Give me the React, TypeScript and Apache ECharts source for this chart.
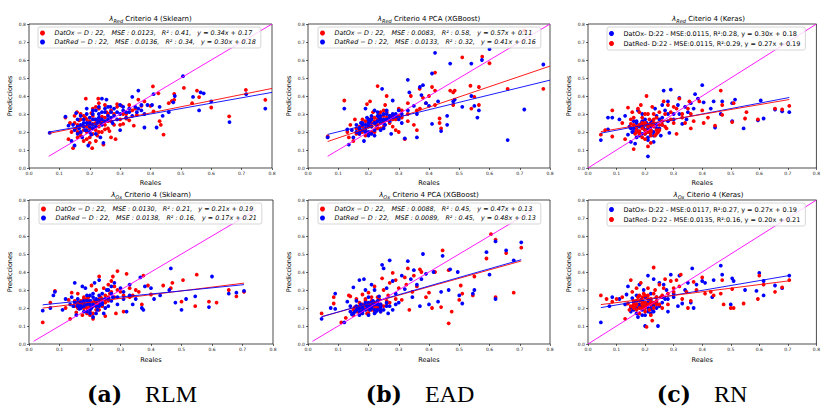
import React, { useEffect, useRef } from 'react';
import * as echarts from 'echarts';

const RED = '#ff0000';
const BLUE = '#0000ff';
const MAG = '#ff00ff';

// ---------- DATA ----------
// (a) RLM – λRed
const aTopOx: number[][] = [[0.778,0.379],[0.714,0.434],[0.659,0.287],[0.6,0.336],[0.56,0.394],[0.553,0.43],[0.537,0.36],[0.51,0.445],[0.478,0.412],[0.478,0.379],[0.47,0.372],[0.46,0.36],[0.443,0.185],[0.434,0.24],[0.426,0.415],[0.43,0.26],[0.408,0.453],[0.41,0.315],[0.4,0.345],[0.38,0.37],[0.37,0.345],[0.355,0.295],[0.36,0.38],[0.345,0.235],[0.33,0.265],[0.32,0.275],[0.31,0.245],[0.305,0.345],[0.3,0.24],[0.29,0.355],[0.285,0.16],[0.28,0.3],[0.27,0.17],[0.265,0.205],[0.26,0.26],[0.255,0.31],[0.25,0.215],[0.245,0.13],[0.24,0.285],[0.235,0.25],[0.23,0.33],[0.228,0.385],[0.225,0.18],[0.22,0.34],[0.215,0.27],[0.21,0.22],[0.208,0.11],[0.205,0.305],[0.2,0.17],[0.195,0.25],[0.19,0.2],[0.187,0.385],[0.185,0.28],[0.18,0.15],[0.175,0.235],[0.17,0.195],[0.165,0.265],[0.16,0.17],[0.158,0.31],[0.155,0.22],[0.15,0.29],[0.145,0.11],[0.14,0.2],[0.135,0.25],[0.13,0.16],[0.12,0.28],[0.19,0.23],[0.2,0.26],[0.21,0.245],[0.22,0.21],[0.23,0.23],[0.24,0.2],[0.25,0.28],[0.26,0.3],[0.27,0.32],[0.18,0.29],[0.17,0.27],[0.16,0.24],[0.21,0.29],[0.23,0.27],[0.2,0.14],[0.22,0.15],[0.29,0.34],[0.31,0.3],[0.33,0.35],[0.34,0.32],[0.16,0.2],[0.17,0.18],[0.18,0.21],[0.19,0.16],[0.2,0.22],[0.21,0.19],[0.22,0.25],[0.23,0.2],[0.24,0.26],[0.25,0.24],[0.26,0.22],[0.27,0.26],[0.28,0.24],[0.19,0.27],[0.21,0.33],[0.23,0.36],[0.25,0.35],[0.17,0.3],[0.15,0.25],[0.3,0.27],[0.32,0.3],[0.35,0.33]];
const aTopRed: number[][] = [[0.778,0.33],[0.715,0.41],[0.66,0.255],[0.6,0.37],[0.575,0.415],[0.56,0.32],[0.565,0.42],[0.54,0.395],[0.507,0.51],[0.48,0.4],[0.475,0.365],[0.46,0.31],[0.44,0.29],[0.43,0.34],[0.42,0.225],[0.405,0.35],[0.41,0.41],[0.38,0.225],[0.36,0.43],[0.37,0.35],[0.355,0.31],[0.34,0.395],[0.33,0.33],[0.32,0.28],[0.31,0.32],[0.3,0.21],[0.29,0.31],[0.275,0.25],[0.268,0.34],[0.255,0.38],[0.24,0.385],[0.245,0.14],[0.235,0.17],[0.23,0.3],[0.225,0.25],[0.22,0.32],[0.21,0.27],[0.205,0.185],[0.2,0.23],[0.195,0.125],[0.19,0.33],[0.185,0.21],[0.18,0.25],[0.175,0.17],[0.17,0.29],[0.165,0.22],[0.16,0.19],[0.155,0.305],[0.15,0.125],[0.145,0.24],[0.14,0.15],[0.13,0.235],[0.12,0.285],[0.068,0.195],[0.19,0.25],[0.2,0.28],[0.21,0.3],[0.22,0.27],[0.23,0.26],[0.24,0.31],[0.25,0.33],[0.26,0.29],[0.27,0.28],[0.18,0.23],[0.17,0.24],[0.16,0.27],[0.2,0.2],[0.21,0.24],[0.22,0.19],[0.24,0.24],[0.26,0.34],[0.28,0.33],[0.3,0.35],[0.32,0.31],[0.34,0.29],[0.36,0.33],[0.38,0.3],[0.39,0.35],[0.17,0.2],[0.18,0.27],[0.19,0.21],[0.2,0.25],[0.21,0.22],[0.22,0.23],[0.23,0.28],[0.24,0.27],[0.25,0.26],[0.26,0.27],[0.27,0.31],[0.28,0.29],[0.29,0.27],[0.3,0.3],[0.19,0.3],[0.21,0.32],[0.23,0.34],[0.25,0.31],[0.16,0.23],[0.15,0.21],[0.31,0.34],[0.33,0.31],[0.35,0.34],[0.37,0.32]];
// (b) EAD – λRed
const bTopOx: number[][] = [[0.778,0.44],[0.715,0.763],[0.66,0.44],[0.6,0.582],[0.576,0.619],[0.565,0.35],[0.565,0.45],[0.537,0.457],[0.54,0.33],[0.55,0.395],[0.51,0.615],[0.48,0.42],[0.485,0.43],[0.47,0.43],[0.48,0.35],[0.44,0.22],[0.435,0.25],[0.435,0.275],[0.42,0.53],[0.42,0.43],[0.42,0.35],[0.41,0.45],[0.4,0.4],[0.39,0.36],[0.38,0.39],[0.369,0.44],[0.37,0.33],[0.36,0.32],[0.36,0.21],[0.35,0.24],[0.34,0.4],[0.33,0.36],[0.33,0.26],[0.32,0.16],[0.3,0.33],[0.3,0.2],[0.29,0.21],[0.28,0.23],[0.27,0.29],[0.26,0.4],[0.255,0.35],[0.25,0.32],[0.24,0.27],[0.235,0.3],[0.23,0.455],[0.225,0.22],[0.22,0.25],[0.215,0.31],[0.21,0.2],[0.205,0.37],[0.2,0.23],[0.195,0.355],[0.19,0.18],[0.185,0.21],[0.18,0.27],[0.17,0.19],[0.16,0.22],[0.155,0.27],[0.15,0.15],[0.14,0.24],[0.135,0.17],[0.13,0.2],[0.12,0.375],[0.065,0.175],[0.19,0.24],[0.2,0.26],[0.21,0.28],[0.22,0.2],[0.23,0.24],[0.24,0.22],[0.25,0.26],[0.26,0.28],[0.27,0.25],[0.18,0.2],[0.17,0.23],[0.2,0.19],[0.22,0.28],[0.24,0.31],[0.28,0.27],[0.29,0.29],[0.31,0.28],[0.17,0.21],[0.18,0.23],[0.19,0.21],[0.2,0.24],[0.21,0.23],[0.22,0.26],[0.23,0.27],[0.24,0.28],[0.25,0.29],[0.26,0.31],[0.27,0.27],[0.28,0.29],[0.29,0.27],[0.3,0.29],[0.16,0.19],[0.19,0.26],[0.21,0.25],[0.23,0.22],[0.25,0.23],[0.31,0.32],[0.33,0.3]];
const bTopRed: number[][] = [[0.778,0.575],[0.715,0.325],[0.66,0.155],[0.6,0.66],[0.575,0.6],[0.565,0.32],[0.56,0.28],[0.55,0.345],[0.54,0.4],[0.54,0.58],[0.51,0.34],[0.48,0.37],[0.485,0.38],[0.47,0.58],[0.46,0.29],[0.46,0.24],[0.44,0.205],[0.43,0.37],[0.42,0.64],[0.41,0.525],[0.41,0.245],[0.4,0.345],[0.39,0.36],[0.38,0.46],[0.375,0.405],[0.37,0.45],[0.36,0.17],[0.36,0.3],[0.35,0.345],[0.335,0.42],[0.33,0.49],[0.32,0.165],[0.31,0.25],[0.3,0.32],[0.29,0.29],[0.28,0.375],[0.275,0.19],[0.27,0.26],[0.255,0.24],[0.25,0.3],[0.245,0.44],[0.24,0.21],[0.235,0.28],[0.225,0.24],[0.22,0.32],[0.21,0.19],[0.205,0.26],[0.2,0.23],[0.195,0.28],[0.19,0.33],[0.185,0.15],[0.18,0.21],[0.175,0.25],[0.17,0.2],[0.16,0.24],[0.15,0.17],[0.145,0.21],[0.135,0.13],[0.13,0.215],[0.12,0.33],[0.065,0.17],[0.19,0.22],[0.2,0.25],[0.21,0.27],[0.22,0.21],[0.23,0.26],[0.24,0.29],[0.25,0.27],[0.26,0.3],[0.27,0.28],[0.18,0.24],[0.17,0.22],[0.2,0.2],[0.22,0.18],[0.24,0.25],[0.26,0.32],[0.28,0.3],[0.3,0.28],[0.17,0.19],[0.18,0.25],[0.19,0.24],[0.2,0.27],[0.21,0.23],[0.22,0.25],[0.23,0.29],[0.24,0.27],[0.25,0.25],[0.26,0.27],[0.27,0.29],[0.28,0.28],[0.29,0.3],[0.3,0.27],[0.19,0.2],[0.21,0.29],[0.23,0.31],[0.25,0.22],[0.16,0.2],[0.31,0.3],[0.33,0.32],[0.2,0.18]];
// (c) RN – λRed
const cTopOx: number[][] = [[0.705,0.31],[0.68,0.315],[0.655,0.325],[0.615,0.275],[0.605,0.375],[0.595,0.265],[0.545,0.22],[0.515,0.38],[0.505,0.26],[0.505,0.36],[0.47,0.37],[0.465,0.3],[0.445,0.225],[0.44,0.37],[0.43,0.33],[0.4,0.46],[0.405,0.365],[0.385,0.385],[0.375,0.41],[0.37,0.33],[0.36,0.36],[0.345,0.27],[0.34,0.34],[0.33,0.245],[0.32,0.39],[0.315,0.35],[0.29,0.435],[0.28,0.37],[0.285,0.195],[0.27,0.32],[0.265,0.43],[0.26,0.35],[0.255,0.18],[0.245,0.2],[0.24,0.29],[0.235,0.33],[0.23,0.145],[0.225,0.26],[0.22,0.21],[0.21,0.155],[0.21,0.065],[0.205,0.25],[0.2,0.19],[0.195,0.22],[0.19,0.3],[0.185,0.245],[0.18,0.18],[0.175,0.32],[0.17,0.215],[0.165,0.135],[0.16,0.26],[0.155,0.2],[0.15,0.145],[0.145,0.23],[0.14,0.185],[0.13,0.29],[0.11,0.27],[0.085,0.28],[0.07,0.28],[0.07,0.215],[0.045,0.155],[0.19,0.23],[0.2,0.21],[0.21,0.24],[0.22,0.23],[0.23,0.2],[0.24,0.22],[0.25,0.27],[0.18,0.2],[0.17,0.25],[0.16,0.22],[0.2,0.27],[0.22,0.25],[0.26,0.24],[0.28,0.26],[0.3,0.3],[0.17,0.17],[0.18,0.23],[0.19,0.19],[0.2,0.24],[0.21,0.22],[0.22,0.19],[0.23,0.24],[0.24,0.24],[0.25,0.22],[0.16,0.2],[0.15,0.22],[0.19,0.26],[0.21,0.17],[0.23,0.18],[0.26,0.28],[0.28,0.3],[0.3,0.27],[0.32,0.3],[0.35,0.31],[0.17,0.26]];
const cTopRed: number[][] = [[0.705,0.345],[0.68,0.325],[0.655,0.33],[0.595,0.27],[0.555,0.31],[0.55,0.275],[0.51,0.36],[0.505,0.255],[0.47,0.35],[0.465,0.43],[0.47,0.295],[0.445,0.235],[0.42,0.28],[0.405,0.25],[0.4,0.32],[0.39,0.37],[0.37,0.26],[0.36,0.22],[0.355,0.37],[0.35,0.33],[0.34,0.25],[0.33,0.3],[0.32,0.385],[0.31,0.19],[0.3,0.34],[0.29,0.27],[0.28,0.35],[0.275,0.22],[0.265,0.37],[0.26,0.24],[0.25,0.31],[0.245,0.2],[0.24,0.28],[0.235,0.18],[0.23,0.23],[0.225,0.34],[0.22,0.18],[0.215,0.27],[0.205,0.4],[0.21,0.12],[0.2,0.21],[0.195,0.24],[0.19,0.17],[0.185,0.35],[0.18,0.205],[0.175,0.33],[0.17,0.23],[0.165,0.19],[0.16,0.105],[0.155,0.31],[0.15,0.245],[0.14,0.335],[0.13,0.16],[0.12,0.25],[0.085,0.32],[0.085,0.175],[0.06,0.21],[0.045,0.185],[0.19,0.22],[0.2,0.25],[0.21,0.2],[0.22,0.24],[0.23,0.27],[0.24,0.21],[0.25,0.24],[0.18,0.24],[0.17,0.2],[0.16,0.28],[0.2,0.3],[0.22,0.2],[0.27,0.3],[0.29,0.31],[0.31,0.33],[0.17,0.21],[0.18,0.19],[0.19,0.25],[0.2,0.19],[0.21,0.23],[0.22,0.21],[0.23,0.25],[0.24,0.19],[0.25,0.21],[0.26,0.26],[0.16,0.24],[0.15,0.27],[0.19,0.28],[0.21,0.3],[0.23,0.3],[0.2,0.16],[0.22,0.14],[0.27,0.23],[0.3,0.25],[0.33,0.28],[0.36,0.3],[0.18,0.31]];
// (a) RLM – λOx
const aBotOx: number[][] = [[0.705,0.29],[0.68,0.265],[0.655,0.3],[0.615,0.23],[0.59,0.235],[0.55,0.385],[0.545,0.21],[0.505,0.355],[0.5,0.235],[0.47,0.34],[0.465,0.31],[0.44,0.325],[0.4,0.275],[0.39,0.325],[0.375,0.38],[0.37,0.22],[0.36,0.29],[0.35,0.3],[0.34,0.27],[0.33,0.26],[0.32,0.39],[0.31,0.18],[0.3,0.29],[0.29,0.405],[0.285,0.17],[0.28,0.32],[0.275,0.375],[0.27,0.35],[0.265,0.28],[0.26,0.24],[0.25,0.155],[0.245,0.31],[0.24,0.22],[0.235,0.26],[0.23,0.375],[0.225,0.2],[0.22,0.3],[0.215,0.24],[0.21,0.14],[0.205,0.325],[0.2,0.2],[0.195,0.26],[0.19,0.17],[0.185,0.215],[0.18,0.25],[0.175,0.16],[0.17,0.2],[0.165,0.23],[0.16,0.28],[0.155,0.175],[0.15,0.21],[0.14,0.285],[0.135,0.14],[0.13,0.245],[0.12,0.2],[0.085,0.295],[0.07,0.23],[0.045,0.12],[0.19,0.22],[0.2,0.24],[0.21,0.21],[0.22,0.23],[0.23,0.22],[0.24,0.25],[0.18,0.2],[0.17,0.22],[0.16,0.2],[0.2,0.18],[0.22,0.19],[0.25,0.27],[0.26,0.33],[0.28,0.26],[0.17,0.24],[0.18,0.22],[0.19,0.2],[0.2,0.21],[0.21,0.23],[0.22,0.22],[0.23,0.25],[0.24,0.21],[0.25,0.23],[0.16,0.23],[0.15,0.24],[0.19,0.25],[0.21,0.17],[0.23,0.19],[0.26,0.26],[0.27,0.29],[0.29,0.3],[0.31,0.27],[0.33,0.31],[0.18,0.26],[0.2,0.16]];
const aBotRed: number[][] = [[0.705,0.295],[0.68,0.285],[0.655,0.28],[0.6,0.375],[0.59,0.205],[0.545,0.265],[0.515,0.25],[0.5,0.19],[0.48,0.23],[0.465,0.42],[0.46,0.3],[0.43,0.27],[0.41,0.25],[0.4,0.31],[0.38,0.32],[0.375,0.19],[0.37,0.2],[0.365,0.37],[0.35,0.25],[0.34,0.22],[0.33,0.33],[0.32,0.18],[0.31,0.25],[0.3,0.31],[0.29,0.22],[0.28,0.34],[0.275,0.26],[0.27,0.32],[0.26,0.21],[0.255,0.3],[0.25,0.25],[0.245,0.17],[0.24,0.28],[0.235,0.22],[0.23,0.355],[0.225,0.19],[0.22,0.25],[0.215,0.34],[0.21,0.15],[0.205,0.2],[0.2,0.27],[0.195,0.23],[0.19,0.18],[0.185,0.31],[0.18,0.21],[0.175,0.32],[0.17,0.23],[0.165,0.195],[0.16,0.25],[0.155,0.16],[0.15,0.34],[0.145,0.21],[0.14,0.26],[0.135,0.22],[0.12,0.25],[0.11,0.19],[0.085,0.29],[0.08,0.27],[0.07,0.2],[0.045,0.185],[0.19,0.24],[0.2,0.22],[0.21,0.26],[0.22,0.21],[0.23,0.24],[0.18,0.23],[0.17,0.21],[0.16,0.22],[0.2,0.19],[0.24,0.23],[0.26,0.3],[0.27,0.24],[0.17,0.2],[0.18,0.24],[0.19,0.22],[0.2,0.24],[0.21,0.22],[0.22,0.24],[0.23,0.21],[0.24,0.22],[0.25,0.2],[0.16,0.21],[0.15,0.23],[0.19,0.27],[0.21,0.28],[0.23,0.27],[0.26,0.25],[0.27,0.28],[0.29,0.26],[0.31,0.29],[0.33,0.27],[0.18,0.18],[0.2,0.17],[0.22,0.17]];
// (b) EAD – λOx
const bBotOx: number[][] = [[0.705,0.535],[0.68,0.285],[0.655,0.505],[0.62,0.58],[0.62,0.26],[0.605,0.61],[0.59,0.475],[0.55,0.375],[0.545,0.27],[0.51,0.28],[0.505,0.325],[0.5,0.245],[0.475,0.18],[0.465,0.41],[0.445,0.52],[0.44,0.205],[0.465,0.115],[0.42,0.4],[0.41,0.2],[0.4,0.285],[0.39,0.26],[0.375,0.4],[0.37,0.415],[0.36,0.32],[0.35,0.38],[0.345,0.29],[0.335,0.19],[0.33,0.42],[0.325,0.33],[0.32,0.37],[0.31,0.245],[0.3,0.31],[0.29,0.355],[0.28,0.395],[0.27,0.34],[0.265,0.27],[0.26,0.225],[0.25,0.3],[0.245,0.365],[0.24,0.18],[0.235,0.25],[0.23,0.21],[0.22,0.32],[0.215,0.195],[0.21,0.26],[0.2,0.285],[0.195,0.17],[0.19,0.24],[0.185,0.21],[0.18,0.275],[0.175,0.19],[0.17,0.23],[0.16,0.25],[0.155,0.205],[0.15,0.16],[0.14,0.265],[0.135,0.27],[0.125,0.145],[0.11,0.12],[0.085,0.26],[0.085,0.225],[0.045,0.17],[0.19,0.2],[0.2,0.22],[0.21,0.19],[0.22,0.23],[0.23,0.2],[0.18,0.22],[0.17,0.2],[0.16,0.18],[0.2,0.19],[0.22,0.21],[0.24,0.22],[0.17,0.21],[0.18,0.19],[0.19,0.22],[0.2,0.2],[0.21,0.22],[0.22,0.2],[0.23,0.23],[0.24,0.19],[0.25,0.21],[0.16,0.2],[0.15,0.19],[0.19,0.25],[0.21,0.24],[0.23,0.26],[0.26,0.24],[0.27,0.23],[0.29,0.25],[0.17,0.17],[0.2,0.17],[0.22,0.18]];
const bBotRed: number[][] = [[0.705,0.565],[0.68,0.465],[0.655,0.52],[0.62,0.57],[0.62,0.25],[0.6,0.385],[0.59,0.51],[0.55,0.3],[0.545,0.28],[0.51,0.225],[0.5,0.27],[0.495,0.4],[0.47,0.415],[0.465,0.3],[0.445,0.49],[0.44,0.29],[0.43,0.235],[0.415,0.4],[0.4,0.22],[0.39,0.39],[0.38,0.5],[0.375,0.36],[0.37,0.21],[0.36,0.33],[0.35,0.41],[0.345,0.26],[0.34,0.36],[0.33,0.46],[0.32,0.305],[0.31,0.38],[0.3,0.23],[0.29,0.28],[0.28,0.35],[0.27,0.465],[0.265,0.17],[0.26,0.31],[0.25,0.42],[0.245,0.44],[0.24,0.22],[0.235,0.265],[0.225,0.18],[0.22,0.3],[0.215,0.24],[0.21,0.33],[0.205,0.19],[0.2,0.26],[0.195,0.21],[0.19,0.3],[0.185,0.36],[0.18,0.17],[0.175,0.22],[0.17,0.355],[0.165,0.2],[0.16,0.24],[0.155,0.18],[0.15,0.315],[0.145,0.165],[0.14,0.21],[0.13,0.235],[0.12,0.12],[0.09,0.28],[0.09,0.195],[0.075,0.2],[0.045,0.14],[0.19,0.22],[0.2,0.2],[0.21,0.21],[0.22,0.19],[0.23,0.22],[0.18,0.2],[0.17,0.18],[0.16,0.21],[0.24,0.2],[0.26,0.21],[0.28,0.19],[0.17,0.2],[0.18,0.21],[0.19,0.19],[0.2,0.21],[0.21,0.2],[0.22,0.22],[0.23,0.19],[0.24,0.21],[0.25,0.19],[0.16,0.19],[0.15,0.17],[0.19,0.23],[0.21,0.23],[0.23,0.24],[0.26,0.23],[0.27,0.21],[0.29,0.22],[0.17,0.16],[0.2,0.16],[0.22,0.17],[0.18,0.18],[0.2,0.23],[0.24,0.18],[0.14,0.18]];
// (c) RN – λOx
const cBotOx: number[][] = [[0.705,0.38],[0.68,0.31],[0.655,0.325],[0.615,0.35],[0.615,0.27],[0.6,0.395],[0.59,0.295],[0.55,0.3],[0.51,0.35],[0.505,0.365],[0.5,0.22],[0.47,0.385],[0.465,0.435],[0.44,0.355],[0.435,0.26],[0.41,0.34],[0.4,0.35],[0.38,0.33],[0.37,0.2],[0.365,0.42],[0.36,0.23],[0.35,0.34],[0.34,0.3],[0.33,0.225],[0.32,0.38],[0.315,0.21],[0.3,0.26],[0.29,0.385],[0.28,0.18],[0.275,0.3],[0.265,0.33],[0.26,0.23],[0.25,0.34],[0.245,0.1],[0.24,0.26],[0.23,0.36],[0.225,0.19],[0.22,0.28],[0.21,0.38],[0.205,0.215],[0.2,0.1],[0.195,0.3],[0.19,0.16],[0.185,0.245],[0.18,0.33],[0.175,0.15],[0.17,0.27],[0.165,0.2],[0.16,0.235],[0.155,0.255],[0.15,0.18],[0.14,0.32],[0.135,0.275],[0.13,0.22],[0.11,0.25],[0.085,0.26],[0.075,0.21],[0.045,0.12],[0.19,0.21],[0.2,0.23],[0.21,0.2],[0.22,0.24],[0.23,0.22],[0.18,0.22],[0.17,0.24],[0.16,0.19],[0.2,0.26],[0.24,0.2],[0.27,0.25],[0.17,0.2],[0.18,0.21],[0.19,0.19],[0.2,0.21],[0.21,0.23],[0.22,0.2],[0.23,0.21],[0.24,0.23],[0.25,0.21],[0.16,0.21],[0.15,0.2],[0.19,0.24],[0.21,0.18],[0.23,0.18],[0.26,0.26],[0.28,0.25],[0.3,0.28],[0.17,0.17],[0.2,0.16],[0.22,0.17]];
const cBotRed: number[][] = [[0.705,0.355],[0.68,0.315],[0.655,0.29],[0.615,0.33],[0.6,0.38],[0.595,0.25],[0.545,0.225],[0.51,0.2],[0.505,0.305],[0.5,0.2],[0.475,0.22],[0.47,0.355],[0.465,0.28],[0.44,0.27],[0.43,0.29],[0.41,0.28],[0.4,0.37],[0.38,0.3],[0.37,0.345],[0.36,0.24],[0.35,0.2],[0.345,0.29],[0.33,0.25],[0.325,0.385],[0.32,0.32],[0.31,0.355],[0.3,0.29],[0.29,0.35],[0.28,0.22],[0.27,0.36],[0.265,0.31],[0.255,0.26],[0.25,0.33],[0.24,0.22],[0.235,0.3],[0.23,0.425],[0.225,0.13],[0.22,0.25],[0.215,0.19],[0.21,0.31],[0.205,0.095],[0.2,0.23],[0.195,0.28],[0.19,0.2],[0.185,0.34],[0.18,0.17],[0.175,0.26],[0.17,0.31],[0.165,0.21],[0.16,0.24],[0.155,0.29],[0.15,0.355],[0.145,0.19],[0.14,0.225],[0.13,0.14],[0.12,0.26],[0.1,0.25],[0.085,0.235],[0.065,0.25],[0.045,0.27],[0.19,0.23],[0.2,0.21],[0.21,0.25],[0.22,0.22],[0.23,0.2],[0.18,0.24],[0.17,0.22],[0.16,0.2],[0.2,0.27],[0.24,0.26],[0.26,0.2],[0.17,0.19],[0.18,0.2],[0.19,0.22],[0.2,0.2],[0.21,0.22],[0.22,0.23],[0.23,0.23],[0.24,0.24],[0.25,0.22],[0.16,0.22],[0.15,0.21],[0.19,0.26],[0.21,0.27],[0.23,0.28],[0.26,0.27],[0.28,0.28],[0.3,0.31],[0.17,0.24],[0.2,0.18],[0.22,0.16],[0.18,0.27]];

// regression coefficients [slope, intercept] read from the legends
const fitOx = [[0.34, 0.17], [0.57, 0.11], [0.30, 0.18], [0.21, 0.19], [0.47, 0.13], [0.27, 0.19]];
const fitRed = [[0.30, 0.18], [0.41, 0.16], [0.27, 0.19], [0.17, 0.21], [0.48, 0.13], [0.20, 0.21]];
const fitRange = [[0.065, 0.8], [0.065, 0.8], [0.045, 0.705], [0.045, 0.705], [0.045, 0.705], [0.045, 0.705]];
const identityRange = [[0.065, 0.8], [0.065, 0.8], [0.0, 0.8], [0.015, 0.745], [0.015, 0.745], [0.0, 0.8]];

const legendOx = [
  'DatOx − D : 22,   MSE : 0.0123,   R² : 0.41,   y = 0.34x + 0.17',
  'DatOx − D : 22,   MSE : 0.0083,   R² : 0.58,   y = 0.57x + 0.11',
  'DatOx- D:22 - MSE:0.0115, R²:0.28, y = 0.30x + 0.18',
  'DatOx − D : 22,   MSE : 0.0130,   R² : 0.21,   y = 0.21x + 0.19',
  'DatOx − D : 22,   MSE : 0.0088,   R² : 0.45,   y = 0.47x + 0.13',
  'DatOx- D:22 - MSE:0.0117, R²:0.27, y = 0.27x + 0.19',
];
const legendRed = [
  'DatRed − D : 22,   MSE : 0.0136,   R² : 0.34,   y = 0.30x + 0.18',
  'DatRed − D : 22,   MSE : 0.0133,   R² : 0.32,   y = 0.41x + 0.16',
  'DatRed- D:22 - MSE:0.0115, R²:0.29, y = 0.27x + 0.19',
  'DatRed − D : 22,   MSE : 0.0138,   R² : 0.16,   y = 0.17x + 0.21',
  'DatRed − D : 22,   MSE : 0.0089,   R² : 0.45,   y = 0.48x + 0.13',
  'DatRed- D:22 - MSE:0.0135, R²:0.16, y = 0.20x + 0.21',
];
const titleSub = ['Red', 'Red', 'Red', 'Ox', 'Ox', 'Ox'];
const titleRest = [' Criterio 4 (Sklearn)', ' Criterio 4 PCA (XGBoost)', ' Citerio 4 (Keras)', ' Criterio 4 (Sklearn)', ' Criterio 4 PCA (XGBoost)', ' Citerio 4 (Keras)'];
const captions = [['(a)', 'RLM'], ['(b)', 'EAD'], ['(c)', 'RN']];
const xTicks = [0, 0.8, 0.1];

const oxData = [aTopOx, bTopOx, cTopOx, aBotOx, bBotOx, cBotOx];
const redData = [aTopRed, bTopRed, cTopRed, aBotRed, bBotRed, cBotRed];

// ---------- LAYOUT ----------
const grids = [
  { left: 29, top: 24, width: 243, height: 144 },
  { left: 308, top: 24, width: 242, height: 144 },
  { left: 588, top: 24, width: 241, height: 144 },
  { left: 29, top: 200, width: 244, height: 144 },
  { left: 308, top: 200, width: 242, height: 144 },
  { left: 588, top: 200, width: 241, height: 144 },
];
const legendPos = [
  { left: 38, top: 27 }, { left: 318, top: 27 }, { left: 607, top: 27 },
  { left: 39, top: 203 }, { left: 318, top: 203 }, { left: 607, top: 203 },
];
const isKeras = [false, false, true, false, false, true];

export default function App() {
  const ref = useRef<HTMLDivElement>(null);
  useEffect(() => {
    if (!ref.current) return;
    const chart = echarts.init(ref.current, undefined, { renderer: 'svg' });
    const xAxis: any[] = [];
    const yAxis: any[] = [];
    const series: any[] = [];
    const legend: any[] = [];
    const graphic: any[] = [];
    const axisLabel = { fontSize: 4.5, color: '#222', margin: 3, fontFamily: 'DejaVu Sans', formatter: (v: number) => v.toFixed(1) };
    grids.forEach((g, i) => {
      xAxis.push({
        gridIndex: i, type: 'value', min: xTicks[0], max: xTicks[1], interval: xTicks[2],
        axisLine: { show: false }, splitLine: { show: false },
        axisTick: { show: true, length: 2, lineStyle: { color: '#000', width: 0.6 } },
        axisLabel,
        name: 'Reales', nameLocation: 'middle', nameGap: i < 3 ? 11 : 12,
        nameTextStyle: { fontSize: 6.5, fontFamily: 'DejaVu Sans', color: '#000' },
      });
      yAxis.push({
        gridIndex: i, type: 'value', min: 0, max: 0.8, interval: 0.1,
        axisLine: { show: false }, splitLine: { show: false },
        axisTick: { show: true, length: 2, lineStyle: { color: '#000', width: 0.6 } },
        axisLabel,
        name: 'Predicciones', nameLocation: 'middle', nameGap: 16,
        nameTextStyle: { fontSize: 6.5, fontFamily: 'DejaVu Sans', color: '#000' },
      });
      const sOx = { type: 'scatter', name: legendOx[i], xAxisIndex: i, yAxisIndex: i, data: oxData[i], symbolSize: 3.8,
        itemStyle: { color: isKeras[i] ? BLUE : RED, opacity: 1 }, z: 2 };
      const sRed = { type: 'scatter', name: legendRed[i], xAxisIndex: i, yAxisIndex: i, data: redData[i], symbolSize: 3.8,
        itemStyle: { color: isKeras[i] ? RED : BLUE, opacity: 1 }, z: 2 };
      series.push(sOx, sRed);
      const [x0, x1] = fitRange[i];
      const lineOf = (c: number[]) => [[x0, c[0] * x0 + c[1]], [x1, c[0] * x1 + c[1]]];
      series.push({ type: 'line', name: 'fitOx' + i, xAxisIndex: i, yAxisIndex: i, data: lineOf(fitOx[i]), symbol: 'none',
        lineStyle: { color: isKeras[i] ? BLUE : RED, width: 0.9 }, z: 3, silent: true });
      series.push({ type: 'line', name: 'fitRed' + i, xAxisIndex: i, yAxisIndex: i, data: lineOf(fitRed[i]), symbol: 'none',
        lineStyle: { color: isKeras[i] ? RED : BLUE, width: 0.9 }, z: 3, silent: true });
      const [i0, i1] = identityRange[i];
      series.push({ type: 'line', name: 'identity' + i, xAxisIndex: i, yAxisIndex: i, data: [[i0, i0], [i1, i1]], symbol: 'none',
        lineStyle: { color: MAG, width: 0.9 }, z: 3, silent: true });
      legend.push({
        orient: 'vertical', left: legendPos[i].left, top: legendPos[i].top,
        icon: 'circle', itemWidth: 14, itemHeight: 5, itemGap: 3,
        padding: [3, 5, 3, 2],
        backgroundColor: 'rgba(255,255,255,0.8)', borderColor: '#cccccc', borderWidth: 0.8, borderRadius: 2,
        textStyle: { fontSize: isKeras[i] ? 6.5 : 6.4, fontStyle: isKeras[i] ? 'normal' : 'italic', fontFamily: 'DejaVu Sans', color: '#000' },
        data: [legendOx[i], legendRed[i]],
        selectedMode: false,
      });
      graphic.push({
        type: 'text', x: g.left + g.width / 2, y: i < 3 ? 19 : 195, z: 10,
        style: {
          text: '{l|λ}{s|' + titleSub[i] + '}{t|' + titleRest[i] + '}',
          align: 'center', verticalAlign: 'middle',
          rich: {
            l: { fontSize: 7, fontFamily: 'DejaVu Sans', fontStyle: 'italic', fill: '#000' },
            s: { fontSize: 5, fontFamily: 'DejaVu Sans', fontStyle: 'italic', fill: '#000', verticalAlign: 'bottom', padding: [3, 0, 0, 0] },
            t: { fontSize: 7, fontFamily: 'DejaVu Sans', fill: '#000' },
          },
        },
      });
    });
    const capX = [142, 420, 702];
    captions.forEach((c, k) => {
      graphic.push({
        type: 'text', x: capX[k], y: 394, z: 10,
        style: {
          text: '{b|' + c[0] + '}{r|' + c[1] + '}', align: 'center', verticalAlign: 'middle',
          rich: {
            b: { fontSize: 22, fontWeight: 'bold', fontFamily: '"DejaVu Serif", serif', fill: '#000' },
            r: { fontSize: 24, fontFamily: '"Liberation Serif", serif', fill: '#000', padding: [0, 0, 0, 23] },
          },
        },
      });
    });
    chart.setOption({
      animation: false,
      backgroundColor: '#ffffff',
      grid: grids.map((g) => ({ ...g, show: true, borderColor: '#000', borderWidth: 0.7, backgroundColor: 'transparent' })),
      xAxis, yAxis, series, legend, graphic,
    });
    return () => chart.dispose();
  }, []);
  return <div ref={ref} style={{ position: 'fixed', left: 0, top: 0, width: 823, height: 409, overflow: 'hidden' }} />;
}
